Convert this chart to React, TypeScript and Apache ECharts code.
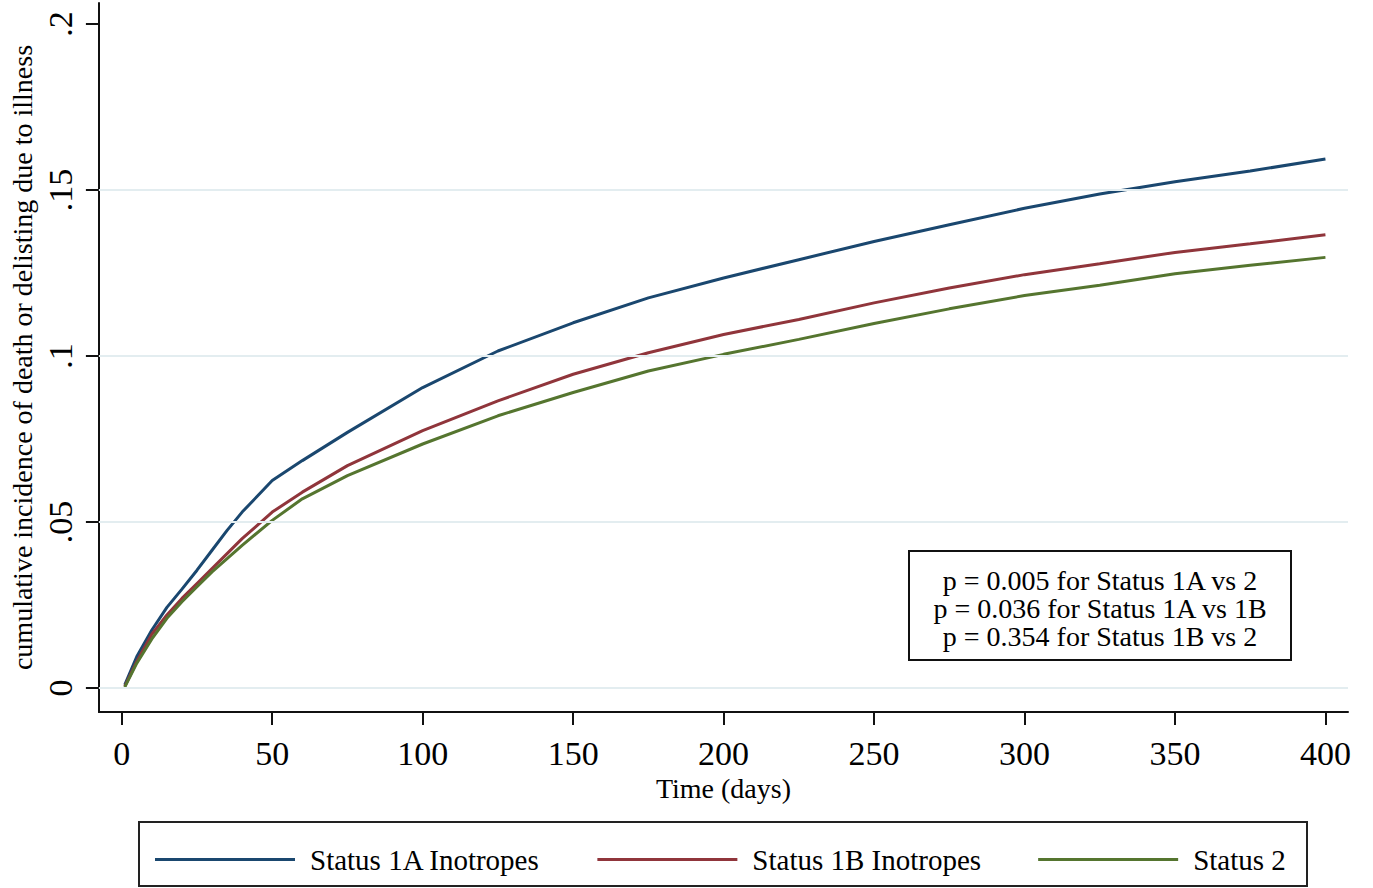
import React, { useEffect, useRef } from "react";
import * as echarts from "echarts";

const days = [1, 5, 10, 15, 20, 25, 30, 35, 40, 50, 60, 75, 100, 125, 150, 175, 200, 225, 250, 275, 300, 325, 350, 375, 400];
const status1A = [0.001, 0.0095, 0.0175, 0.0243, 0.0298, 0.0355, 0.0415, 0.0475, 0.053, 0.0625, 0.0685, 0.077, 0.0905, 0.1015, 0.110, 0.1175, 0.1235, 0.129, 0.1345, 0.1395, 0.1445, 0.1488, 0.1525, 0.1557, 0.1593];
const status1B = [0.0005, 0.008, 0.0162, 0.022, 0.027, 0.0315, 0.036, 0.0405, 0.045, 0.053, 0.059, 0.067, 0.0775, 0.0865, 0.0945, 0.101, 0.1065, 0.111, 0.116, 0.1205, 0.1245, 0.1278, 0.1312, 0.1338, 0.1365];
const status2 = [0.0003, 0.0075, 0.0148, 0.021, 0.026, 0.0305, 0.035, 0.039, 0.043, 0.0505, 0.057, 0.064, 0.0735, 0.082, 0.089, 0.0955, 0.1005, 0.105, 0.1098, 0.1142, 0.1182, 0.1213, 0.1248, 0.1273, 0.1297];

const seriesNames = ["Status 1A Inotropes", "Status 1B Inotropes", "Status 2"];
const seriesColors = ["#1a476f", "#90353b", "#55752f"];
const xTicks = [0, 50, 100, 150, 200, 250, 300, 350, 400];
const yTicks = [0, 0.05, 0.1, 0.15, 0.2];
const gridValues = [0, 0.05, 0.1, 0.15];
const pValueLines = [
  "p = 0.005 for Status 1A vs 2",
  "p = 0.036 for Status 1A vs 1B",
  "p = 0.354 for Status 1B vs 2",
];

const FONT = "'Liberation Serif', 'Times New Roman', serif";

export default function App() {
  const ref = useRef<HTMLDivElement>(null);
  useEffect(() => {
    if (!ref.current) return;
    const chart = echarts.init(ref.current, undefined, { renderer: "svg" });
    const allSeries = [status1A, status1B, status2];
    const option: any = {
      animation: false,
      backgroundColor: "#ffffff",
      textStyle: { fontFamily: FONT, color: "#000" },
      grid: { left: 97, top: 3, right: 25, bottom: 176, containLabel: false },
      xAxis: {
        type: "value",
        min: -7.6,
        max: 407.5,
        name: "Time (days)",
        nameLocation: "middle",
        nameGap: 61,
        nameTextStyle: { fontFamily: FONT, fontSize: 28, color: "#000" },
        axisLine: { show: true, onZero: false, lineStyle: { color: "#111", width: 2 } },
        axisTick: { show: true, length: 13, lineStyle: { color: "#111", width: 2 }, customValues: xTicks },
        axisLabel: { show: true, fontFamily: FONT, fontSize: 34, color: "#000", margin: 24, customValues: xTicks },
        splitLine: { show: false },
      },
      yAxis: {
        type: "value",
        min: -0.0072,
        max: 0.2063,
        name: "cumulative incidence of death or delisting due to illness",
        nameLocation: "middle",
        nameGap: 62,
        nameRotate: 90,
        nameTextStyle: { fontFamily: FONT, fontSize: 28, color: "#000" },
        axisLine: { show: true, onZero: false, lineStyle: { color: "#111", width: 2 } },
        axisTick: { show: true, length: 13, lineStyle: { color: "#111", width: 2 }, customValues: yTicks },
        axisLabel: {
          show: true,
          rotate: 90,
          fontFamily: FONT,
          fontSize: 34,
          color: "#000",
          margin: 21,
          customValues: yTicks,
          formatter: (v: number) => (v === 0 ? "0" : String(v).replace(/^0/, "")),
        },
        splitLine: { show: false },
      },
      legend: {
        data: seriesNames,
        left: 150,
        top: 840,
        itemWidth: 140,
        itemHeight: 3,
        itemGap: 57,
        icon: "rect",
        textStyle: { fontFamily: FONT, fontSize: 29, color: "#000", padding: [0, 0, 0, 10] },
      },
      graphic: [
        {
          type: "rect",
          shape: { x: 139, y: 822, width: 1168, height: 64 },
          style: { fill: "none", stroke: "#222", lineWidth: 2 },
          silent: true,
        },
        {
          type: "rect",
          shape: { x: 909, y: 551, width: 382, height: 109 },
          style: { fill: "#fff", stroke: "#111", lineWidth: 2 },
          silent: true,
          z: 10,
        },
        ...pValueLines.map((line, i) => ({
          type: "text",
          x: 1100,
          y: 580 + i * 28,
          z: 11,
          style: {
            text: line,
            fontFamily: FONT,
            fontSize: 28,
            fill: "#000",
            align: "center",
            verticalAlign: "middle",
          },
        })),
      ],
      series: [
        {
          name: "grid",
          type: "line",
          data: [],
          silent: true,
          z: 1,
          markLine: {
            silent: true,
            symbol: "none",
            label: { show: false },
            lineStyle: { color: "#e3edf0", width: 2, type: "solid" },
            data: gridValues.map((v) => ({ yAxis: v })),
          },
        },
        ...allSeries.map((vals, i) => ({
          name: seriesNames[i],
          type: "line",
          data: days.map((d, j) => [d, vals[j]]),
          showSymbol: false,
          smooth: false,
          z: 3,
          lineStyle: { color: seriesColors[i], width: 3 },
          itemStyle: { color: seriesColors[i] },
        })),
      ],
    };
    chart.setOption(option);
    return () => chart.dispose();
  }, []);
  return (
    <div
      ref={ref}
      style={{ position: "absolute", left: 0, top: 0, width: 1373, height: 888, background: "#fff" }}
    />
  );
}
